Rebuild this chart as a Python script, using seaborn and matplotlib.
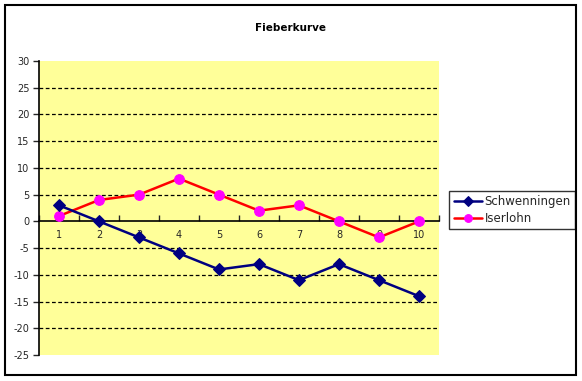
import numpy as np
import pandas as pd
import matplotlib
matplotlib.use("Agg")
import matplotlib.pyplot as plt
import seaborn as sns
from matplotlib.patches import Rectangle

# data
days = [1, 2, 3, 4, 5, 6, 7, 8, 9, 10]
schwenningen = [3, 0, -3, -6, -9, -8, -11, -8, -11, -14]
iserlohn = [1, 4, 5, 8, 5, 2, 3, 0, -3, 0]
y_ticks = [-25, -20, -15, -10, -5, 0, 5, 10, 15, 20, 25, 30]

sns.set_style("white")
plt.rcParams['font.family'] = ['DejaVu Sans']

fig = plt.figure(figsize=(5.82, 3.81), dpi=100)
ax = fig.add_axes([39 / 582, 1 - 355 / 381, 400 / 582, 294 / 381])
ax.set_facecolor("#FFFF99")

# axis line through zero (set before ticks, it resets them)
for s in ["top", "right"]:
    ax.spines[s].set_visible(False)
ax.spines["bottom"].set_position(("data", 0))

# dashed gridlines (not at 0 or edges)
for y in y_ticks:
    if y not in (0, -25, 30):
        ax.axhline(y, color="black", linestyle=(0, (3, 2)), linewidth=0.9, zorder=1)

df_s = pd.DataFrame({"Tag": days, "Wert": schwenningen})
df_i = pd.DataFrame({"Tag": days, "Wert": iserlohn})

sns.lineplot(data=df_s, x="Tag", y="Wert", ax=ax, color="#000080", linewidth=1.8,
             marker="D", markersize=6, markerfacecolor="#000080",
             markeredgecolor="#000080", label="Schwenningen", zorder=4)
sns.lineplot(data=df_i, x="Tag", y="Wert", ax=ax, color="#FF0000", linewidth=1.8,
             marker="o", markersize=7, markerfacecolor="#FF00FF",
             markeredgecolor="#FF00FF", label="Iserlohn", zorder=3)

ax.set_xlim(0.5, 10.5)
ax.set_ylim(-25, 30)
ax.set_yticks(y_ticks)
ax.set_yticklabels([str(v) for v in y_ticks])
ax.set_xticks(days)
ax.set_xticklabels([str(d) for d in days])
ax.set_xticks(np.arange(0.5, 11, 1), minor=True)
ax.tick_params(axis="x", which="major", length=0, pad=6, labelsize=7)
ax.tick_params(axis="x", which="minor", length=4, direction="in", width=1, bottom=True)
ax.tick_params(axis="y", which="major", length=4, direction="out", width=1, pad=3,
               left=True, labelsize=7)
ax.set_xlabel("")
ax.set_ylabel("")

ax.spines["bottom"].set_color("black")
ax.spines["bottom"].set_linewidth(1.2)
ax.spines["left"].set_color("black")
ax.spines["left"].set_linewidth(1.2)

leg = ax.legend(loc="center left", bbox_to_anchor=(449 / 582, 1 - 210 / 381),
                bbox_transform=fig.transFigure, frameon=True, fancybox=False,
                fontsize=8.5, handlelength=2.4, borderpad=0.4, labelspacing=0.3,
                handletextpad=0.2, borderaxespad=0, markerscale=0.8)
leg.get_frame().set_edgecolor("black")
leg.get_frame().set_linewidth(1.0)

fig.text(291 / 582, 1 - 28 / 381, "Fieberkurve", ha="center", va="center",
         fontsize=7.5, fontweight="bold", color="black")

fig.patches.append(Rectangle((5 / 582, 1 - 375 / 381), 571 / 582, 370 / 381,
                             transform=fig.transFigure, fill=False,
                             edgecolor="black", linewidth=1.5))

fig.savefig("out.png", dpi=100)
